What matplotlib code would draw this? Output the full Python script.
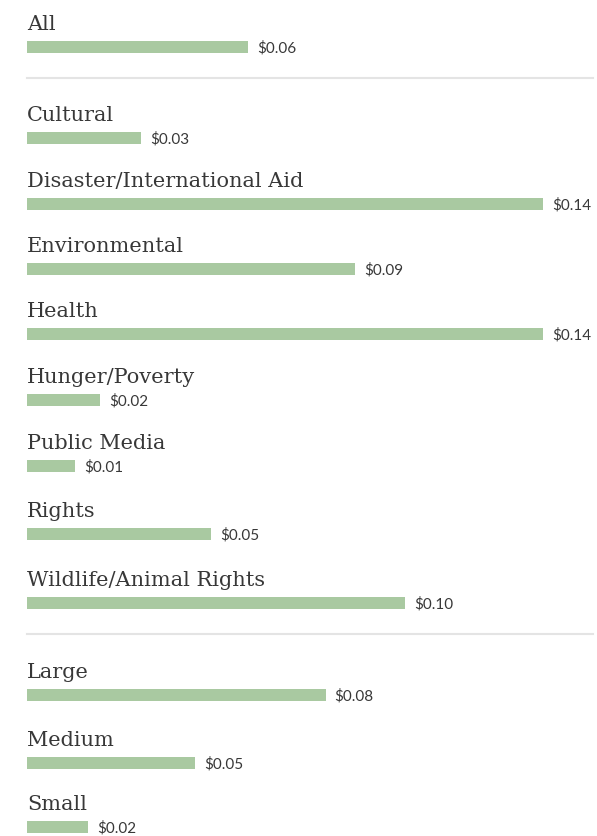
import matplotlib
matplotlib.use("Agg")
import matplotlib.pyplot as plt

# average cost per dollar raised, by cause and by organisation size
categories = ["All",
              "Cultural", "Disaster/International Aid", "Environmental", "Health",
              "Hunger/Poverty", "Public Media", "Rights", "Wildlife/Animal Rights",
              "Large", "Medium", "Small"]
costs = [0.060,
         0.031, 0.140, 0.089, 0.140,
         0.0198, 0.013, 0.050, 0.1025,
         0.081, 0.0456, 0.0166]

# layout (pixel rows from the top of the figure)
bar_rows = [48, 139, 205, 270, 335, 401, 467, 535, 604, 696, 764, 828]
rule_rows = [79, 635]

W, H = 597, 837
left_px, full_px = 27, 543
bar_color = "#a9c9a1"
text_color = "#383838"

fig = plt.figure(figsize=(W / 100, H / 100), dpi=100)
ax = fig.add_axes([0, 0, 1, 1])
scale = (full_px - left_px) / max(costs)
ax.set_xlim(-left_px / scale, (W - left_px) / scale)
ax.set_ylim(H, 0)
ax.axis("off")

ax.barh(bar_rows, costs, height=12, left=0, color=bar_color)

for name, v, y in zip(categories, costs, bar_rows):
    ax.text(0, y - 18, name, family="DejaVu Serif", fontsize=15,
            color=text_color, va="baseline", ha="left")
    ax.text(v + 9 / scale, y, f"${v:.2f}", family="Lato", fontsize=11,
            color=text_color, va="center", ha="left")

for y in rule_rows:
    ax.plot([0, (593 - left_px) / scale], [y, y], color="#e4e4e4", lw=1.5)

fig.savefig("out.png", dpi=100)
